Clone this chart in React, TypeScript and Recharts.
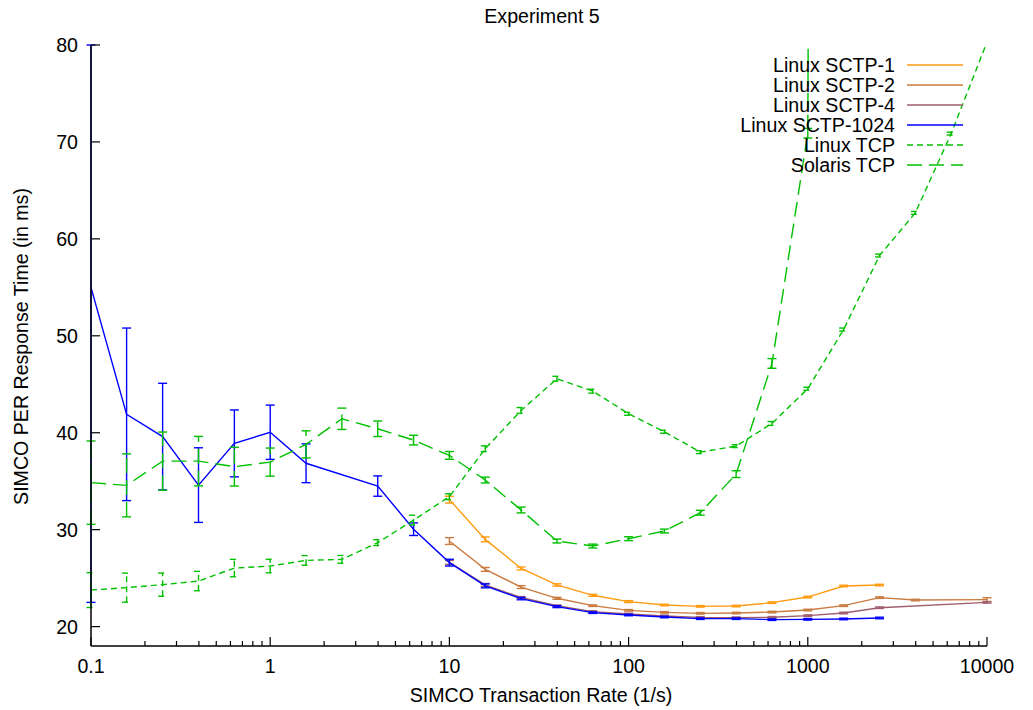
import React from 'react';
import { LineChart, Line, XAxis, YAxis, ErrorBar } from 'recharts';

// ---- data -------------------------------------------------------------
const rates = [0.1, 0.158, 0.251, 0.398, 0.631, 1, 1.585, 2.512, 3.981, 6.31, 10, 15.85, 25.12, 39.81, 63.1, 100, 158.5, 251.2, 398.1, 631, 1000, 1585, 2512, 3981, 6310, 10000];

const sctp1 = [null, null, null, null, null, null, null, null, null, null, 33.1, 29.0, 26.0, 24.3, 23.23, 22.58, 22.23, 22.09, 22.12, 22.47, 23.05, 24.19, 24.29, null, null, null];
const sctp1Err = [null, null, null, null, null, null, null, null, null, null, 0.35, 0.25, 0.15, 0.12, 0.1, 0.1, 0.08, 0.08, 0.08, 0.08, 0.08, 0.08, 0.08, null, null, null];

const sctp2 = [null, null, null, null, null, null, null, null, null, null, 28.83, 25.9, 24.08, 22.92, 22.16, 21.68, 21.47, 21.37, 21.4, 21.5, 21.71, 22.16, 22.99, 22.74, null, 22.78];
const sctp2Err = [null, null, null, null, null, null, null, null, null, null, 0.35, 0.2, 0.15, 0.1, 0.08, 0.08, 0.08, 0.08, 0.08, 0.08, 0.08, 0.08, 0.08, 0.08, null, 0.2];

const sctp4 = [null, null, null, null, null, null, null, null, null, null, 26.62, 24.3, 23.0, 22.15, 21.55, 21.3, 21.1, 20.95, 20.92, 20.96, 21.13, 21.4, 21.95, null, null, 22.5];
const sctp4Err = [null, null, null, null, null, null, null, null, null, null, 0.2, 0.15, 0.1, 0.08, 0.08, 0.08, 0.08, 0.08, 0.08, 0.08, 0.08, 0.08, 0.08, null, null, 0.08];

const sctp1024 = [55.0, 41.9, 39.6, 34.6, 38.9, 40.05, 36.85, null, 34.5, 30.05, 26.6, 24.2, 22.89, 22.06, 21.44, 21.2, 20.99, 20.82, 20.82, 20.72, 20.75, 20.79, 20.89, null, null, null];
const sctp1024Err: any[] = [[32.5, 25], 8.9, 5.5, 3.85, 3.45, 2.8, 2.0, null, 1.05, 0.65, 0.35, 0.2, 0.12, 0.1, 0.08, 0.08, 0.08, 0.08, 0.08, 0.08, 0.08, 0.08, 0.08, null, null, null];

const linuxTcp = [23.77, 24.02, 24.33, 24.7, 26.04, 26.25, 26.83, 26.94, 28.66, 30.99, 33.4, 38.35, 42.3, 45.57, 44.29, 41.96, 40.1, 38.0, 38.62, 40.96, 44.54, 50.65, 58.28, 62.68, 70.86, 80.3];
const linuxTcpErr = [1.8, 1.5, 1.2, 1.0, 0.9, 0.7, 0.5, 0.4, 0.3, 0.5, 0.3, 0.3, 0.3, 0.25, 0.2, 0.15, 0.15, 0.15, 0.15, 0.2, 0.15, 0.15, 0.15, 0.15, 0.15, null];

const solarisTcp = [34.85, 34.57, 37.07, 37.07, 36.5, 36.97, 38.8, 41.44, 40.41, 39.24, 37.66, 35.12, 32.03, 28.83, 28.31, 29.07, 29.86, 31.75, 35.73, 47.15, 70.9, 1000, null, null, null, null];
const solarisTcpErr = [4.3, 3.25, 3.0, 2.55, 2.0, 1.45, 1.4, 1.1, 0.8, 0.5, 0.4, 0.3, 0.3, 0.2, 0.2, 0.2, 0.2, 0.25, 0.35, 0.5, 0.5, null, null, null, null, null];

const seriesNames = ['Linux SCTP-1', 'Linux SCTP-2', 'Linux SCTP-4', 'Linux SCTP-1024', 'Linux TCP', 'Solaris TCP'];
const seriesKeys = ['s1', 's2', 's4', 's1024', 'ltcp', 'stcp'];
const seriesColors = ['#ff9c12', '#c97b40', '#a05e6c', '#0000ff', '#00c000', '#00c000'];
const seriesDash: (string | undefined)[] = [undefined, undefined, undefined, undefined, '6 4', '15 7'];

const majorXTicks = [0.1, 1, 10, 100, 1000, 10000];
const minorMultipliers = [2, 3, 4, 5, 6, 7, 8, 9];
const yTicks = [20, 30, 40, 50, 60, 70, 80];

const title = 'Experiment 5';
const xLabel = 'SIMCO Transaction Rate (1/s)';
const yLabel = 'SIMCO PER Response Time (in ms)';

// ---- derived tables ------------------------------------------------------
const allXTicks: number[] = [...majorXTicks];
majorXTicks.slice(0, -1).forEach((d) => minorMultipliers.forEach((m) => allXTicks.push(+(d * m).toPrecision(6))));
allXTicks.sort((a, b) => a - b);

const values = [sctp1, sctp2, sctp4, sctp1024, linuxTcp, solarisTcp];
const errors = [sctp1Err, sctp2Err, sctp4Err, sctp1024Err, linuxTcpErr, solarisTcpErr];

const table = rates.map((r, i) => {
  const row: any = { rate: r };
  seriesKeys.forEach((k, j) => {
    row[k] = values[j][i];
    row['e_' + k] = errors[j][i];
  });
  return row;
});

// ---- styling -------------------------------------------------------------
const W = 1033;
const H = 710;
const FONT = '"Liberation Sans", Arial, Helvetica, sans-serif';
const FS = 19.6;
const PLOT_L = 91;
const PLOT_R = 987;
const PLOT_T = 45;
const PLOT_B = 646;

const isMajor = (v: number) => majorXTicks.some((m) => Math.abs(m - v) / m < 1e-6);

const BottomTick = (props: any) => {
  const { x, y, payload } = props;
  const major = isMajor(payload.value);
  return (
    <g>
      <line x1={x} y1={y} x2={x} y2={y - (major ? 9 : 5)} stroke="#000" strokeWidth={1.2} />
      {major && (
        <text x={x} y={y + 27} textAnchor="middle" fontFamily={FONT} fontSize={FS} fill="#000">
          {String(payload.value)}
        </text>
      )}
    </g>
  );
};

const TopTick = (props: any) => {
  const { x, y, payload } = props;
  const major = isMajor(payload.value);
  return <line x1={x} y1={y} x2={x} y2={y + (major ? 9 : 5)} stroke="#000" strokeWidth={1.2} />;
};

const LeftTick = (props: any) => {
  const { x, y, payload } = props;
  return (
    <g>
      <line x1={x} y1={y} x2={x + 9} y2={y} stroke="#000" strokeWidth={1.2} />
      <text x={x - 13} y={y} dy="0.355em" textAnchor="end" fontFamily={FONT} fontSize={FS} fill="#000">
        {String(payload.value)}
      </text>
    </g>
  );
};

const RightTick = (props: any) => {
  const { x, y } = props;
  return <line x1={x} y1={y} x2={x - 9} y2={y} stroke="#000" strokeWidth={1.2} />;
};

const Overlay = () => {
  const legendTextX = 895;
  const legendLineX1 = 907;
  const legendLineX2 = 963;
  return (
    <g>
      <text x={(PLOT_L + PLOT_R) / 2 + 3} y={23} textAnchor="middle" fontFamily={FONT} fontSize={FS} fill="#000">
        {title}
      </text>
      <text x={(PLOT_L + PLOT_R) / 2 + 2} y={702} textAnchor="middle" fontFamily={FONT} fontSize={FS} fill="#000">
        {xLabel}
      </text>
      <text
        x={28}
        y={(PLOT_T + PLOT_B) / 2 + 1}
        transform={`rotate(-90 28 ${(PLOT_T + PLOT_B) / 2 + 1})`}
        textAnchor="middle"
        fontFamily={FONT}
        fontSize={FS}
        fill="#000"
      >
        {yLabel}
      </text>
      {seriesNames.map((n, i) => {
        const ly = 65 + 20 * i;
        return (
          <g key={n}>
            <text x={legendTextX} y={ly + 7} textAnchor="end" fontFamily={FONT} fontSize={FS} fill="#000">
              {n}
            </text>
            <line
              x1={legendLineX1}
              y1={ly}
              x2={legendLineX2}
              y2={ly}
              stroke={seriesColors[i]}
              strokeWidth={1.4}
              strokeDasharray={seriesDash[i]}
            />
          </g>
        );
      })}
    </g>
  );
};

export default function App() {
  return (
    <div style={{ position: 'absolute', left: 0, top: 0, width: W, height: H, background: '#fff' }}>
      <LineChart width={W} height={H} data={table} margin={{ top: PLOT_T, right: W - PLOT_R, bottom: 0, left: 0 }}>
        <XAxis
          dataKey="rate"
          type="number"
          scale="log"
          domain={[0.1, 10000]}
          allowDataOverflow
          ticks={allXTicks}
          interval={0}
          height={H - PLOT_B}
          tickSize={0}
          tickMargin={0}
          tickLine={false}
          tick={(p: any) => <BottomTick {...p} />}
          axisLine={{ stroke: '#000', strokeWidth: 1.5 }}
          label={() => <Overlay />}
        />
        <XAxis
          xAxisId="top"
          orientation="top"
          dataKey="rate"
          type="number"
          scale="log"
          domain={[0.1, 10000]}
          allowDataOverflow
          ticks={allXTicks}
          interval={0}
          height={0}
          tickSize={0}
          tickMargin={0}
          tickLine={false}
          tick={(p: any) => <TopTick {...p} />}
          axisLine={{ stroke: '#000', strokeWidth: 1.5 }}
        />
        <YAxis
          type="number"
          domain={[18, 80]}
          allowDataOverflow
          ticks={yTicks}
          interval={0}
          width={PLOT_L}
          tickSize={0}
          tickMargin={0}
          tickLine={false}
          tick={(p: any) => <LeftTick {...p} />}
          axisLine={{ stroke: '#000', strokeWidth: 1.5 }}
        />
        <YAxis
          yAxisId="right"
          orientation="right"
          type="number"
          domain={[18, 80]}
          allowDataOverflow
          ticks={yTicks}
          interval={0}
          width={0}
          tickSize={0}
          tickMargin={0}
          tickLine={false}
          tick={(p: any) => <RightTick {...p} />}
          axisLine={{ stroke: '#000', strokeWidth: 1.5 }}
        />
        {seriesKeys.map((k, j) => (
          <Line
            key={k}
            dataKey={k}
            name={seriesNames[j]}
            type="linear"
            stroke={seriesColors[j]}
            strokeWidth={1.4}
            strokeDasharray={seriesDash[j]}
            dot={false}
            activeDot={false}
            connectNulls
            isAnimationActive={false}
          >
            <ErrorBar
              dataKey={'e_' + k}
              direction="y"
              width={4.5}
              stroke={seriesColors[j]}
              strokeWidth={1.4}
              strokeDasharray={seriesDash[j]}
              isAnimationActive={false}
            />
          </Line>
        ))}
      </LineChart>
    </div>
  );
}
